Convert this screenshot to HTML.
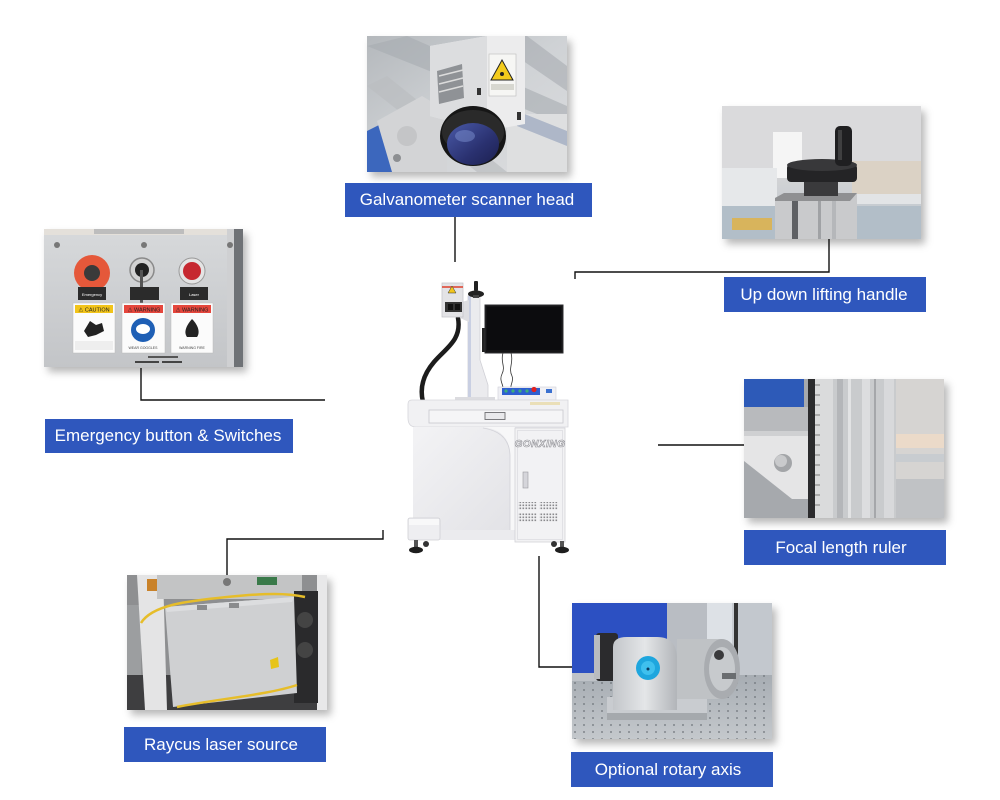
<!DOCTYPE html>
<html><head><meta charset="utf-8"><style>
html,body{margin:0;padding:0;background:#fff;width:1000px;height:800px;overflow:hidden}
svg{display:block}
</style></head><body>
<svg width="1000" height="800" viewBox="0 0 1000 800" xmlns="http://www.w3.org/2000/svg" font-family="'Liberation Sans', sans-serif">
<defs>
<filter id="sh" x="-10%" y="-10%" width="130%" height="135%"><feDropShadow dx="4" dy="5" stdDeviation="4" flood-color="#000" flood-opacity="0.28"/></filter>
<clipPath id="c1"><rect x="0" y="0" width="200" height="136"/></clipPath>
<clipPath id="c2"><rect x="0" y="0" width="199" height="133"/></clipPath>
<clipPath id="c3"><rect x="0" y="0" width="199" height="138"/></clipPath>
<clipPath id="c4"><rect x="0" y="0" width="200" height="139"/></clipPath>
<clipPath id="c5"><rect x="0" y="0" width="200" height="135"/></clipPath>
<clipPath id="c6"><rect x="0" y="0" width="200" height="136"/></clipPath>
<linearGradient id="g1bg" x1="0" y1="0" x2="1" y2="1"><stop offset="0" stop-color="#b4b8bc"/><stop offset="0.5" stop-color="#cfd2d5"/><stop offset="1" stop-color="#dcdddf"/></linearGradient>
<linearGradient id="g2bg" x1="0" y1="0" x2="0" y2="1"><stop offset="0" stop-color="#d9d9db"/><stop offset="0.55" stop-color="#d2d3d5"/><stop offset="1" stop-color="#b9c3cc"/></linearGradient>
<linearGradient id="g3bg" x1="0" y1="0" x2="0" y2="1"><stop offset="0" stop-color="#d7d9db"/><stop offset="1" stop-color="#c3c5c8"/></linearGradient>
<linearGradient id="g4bg" x1="0" y1="0" x2="0" y2="1"><stop offset="0" stop-color="#d6d6d6"/><stop offset="0.45" stop-color="#e8dccf"/><stop offset="0.6" stop-color="#d4d6d8"/><stop offset="1" stop-color="#c2c5c8"/></linearGradient>
<linearGradient id="g6tab" x1="0" y1="0" x2="0" y2="1"><stop offset="0" stop-color="#a7adb3"/><stop offset="1" stop-color="#c4c8cc"/></linearGradient>
<linearGradient id="lens" x1="0" y1="0" x2="1" y2="1"><stop offset="0" stop-color="#4a5aa8"/><stop offset="0.6" stop-color="#2a3170"/><stop offset="1" stop-color="#1c2050"/></linearGradient>
<linearGradient id="silver" x1="0" y1="0" x2="1" y2="0"><stop offset="0" stop-color="#c3c6ca"/><stop offset="0.5" stop-color="#e4e6e8"/><stop offset="1" stop-color="#b2b5b9"/></linearGradient>
<linearGradient id="mcab" x1="0" y1="0" x2="1" y2="1"><stop offset="0" stop-color="#f3f3f5"/><stop offset="1" stop-color="#e2e2e6"/></linearGradient>
<pattern id="vent" width="3" height="3" patternUnits="userSpaceOnUse"><rect width="3" height="3" fill="#f1f1f3"/><rect x="0.5" y="0.5" width="1.6" height="1.6" fill="#8a8a8e"/></pattern>
<pattern id="holes" width="9" height="7" patternUnits="userSpaceOnUse"><circle cx="3" cy="3" r="0.9" fill="#6c7278"/></pattern>
</defs>

<!-- ============ PHOTO 1: Galvanometer ============ -->
<g transform="translate(367,36)">
<rect width="200" height="136" fill="#fff" filter="url(#sh)"/>
<g clip-path="url(#c1)">
<rect width="200" height="136" fill="url(#g1bg)"/>
<polygon points="0,10 40,0 200,70 200,90" fill="#a7abb0" opacity="0.6"/>
<polygon points="0,50 20,40 140,136 110,136" fill="#babdc1" opacity="0.7"/>
<polygon points="120,0 160,0 200,30 200,55" fill="#9fa4a9" opacity="0.5"/>
<rect x="140" y="78" width="60" height="58" fill="#dedfe0"/>
<polygon points="150,75 200,95 200,110 150,90" fill="#7e8fb0" opacity="0.5"/>
<polygon points="0,95 20,85 30,136 0,136" fill="#3c67bd"/>
<polygon points="10,85 55,60 80,75 80,136 25,136" fill="#d3d4d6"/>
<circle cx="40" cy="100" r="10" fill="#c4c5c7"/>
<circle cx="30" cy="122" r="4" fill="#8d8f92"/>
<polygon points="63,10 120,0 158,0 158,88 120,95 63,80" fill="#ececed"/>
<polygon points="63,10 120,0 120,95 63,80" fill="#dcdddf"/>
<polygon points="70,35 95,28 97,62 72,68" fill="#8f9296"/>
<line x1="72" y1="40" x2="96" y2="34" stroke="#dcdcdc" stroke-width="1.5"/>
<line x1="72" y1="48" x2="96" y2="42" stroke="#dcdcdc" stroke-width="1.5"/>
<line x1="72" y1="56" x2="96" y2="50" stroke="#dcdcdc" stroke-width="1.5"/>
<rect x="122" y="18" width="27" height="42" fill="#f6f6f4" stroke="#bbb" stroke-width="0.6"/>
<polygon points="135,24 146,44 124,44" fill="#f3cb1c" stroke="#222" stroke-width="1"/>
<circle cx="135" cy="38" r="2" fill="#222"/>
<rect x="124" y="48" width="23" height="6" fill="#d7d7d0"/>
<rect x="110" y="52" width="4" height="7" fill="#333"/>
<rect x="150" y="76" width="4" height="8" fill="#333"/>
<ellipse cx="106" cy="100" rx="33" ry="30" fill="#161616"/>
<ellipse cx="106" cy="96" rx="31" ry="22" fill="#2a2a2a"/>
<ellipse cx="106" cy="108" rx="26" ry="21" fill="url(#lens)"/>
<ellipse cx="98" cy="100" rx="10" ry="6" fill="#7c8fd0" opacity="0.5"/>
</g></g>

<!-- ============ PHOTO 2: Lifting handle ============ -->
<g transform="translate(722,106)">
<rect width="199" height="133" fill="#fff" filter="url(#sh)"/>
<g clip-path="url(#c2)">
<rect width="199" height="133" fill="url(#g2bg)"/>
<rect x="0" y="0" width="199" height="70" fill="#dadadc"/>
<rect x="51" y="26" width="29" height="46" fill="#f5f5f5"/>
<rect x="130" y="55" width="69" height="35" fill="#dbd2c5"/>
<rect x="0" y="62" width="55" height="45" fill="#e6e8ea"/>
<rect x="0" y="100" width="199" height="33" fill="#b2bec8"/>
<rect x="10" y="112" width="40" height="12" fill="#d8b45c"/>
<rect x="135" y="88" width="64" height="10" fill="#e2e4e6"/>
<polygon points="53,92 62,87 135,87 135,133 53,133" fill="#c9cacc"/>
<polygon points="53,92 62,87 135,87 128,95 53,95" fill="#8f9092"/>
<rect x="70" y="95" width="6" height="38" fill="#5e6064"/>
<rect x="96" y="95" width="3" height="38" fill="#a0a2a5"/>
<rect x="110" y="95" width="4" height="38" fill="#b5b7ba"/>
<rect x="82" y="74" width="34" height="16" fill="#3a3a3c"/>
<rect x="65" y="58" width="70" height="18" rx="4" fill="#242426"/>
<ellipse cx="100" cy="59" rx="35" ry="6" fill="#38383a"/>
<rect x="113" y="20" width="17" height="40" rx="5" fill="#1f1f21"/>
<rect x="116" y="24" width="4" height="30" fill="#555" opacity="0.6"/>
</g></g>

<!-- ============ PHOTO 3: Emergency ============ -->
<g transform="translate(44,229)">
<rect width="199" height="138" fill="#fff" filter="url(#sh)"/>
<g clip-path="url(#c3)">
<rect width="199" height="138" fill="url(#g3bg)"/>
<rect x="0" y="0" width="199" height="6" fill="#e4e0da"/>
<rect x="50" y="0" width="90" height="5" fill="#bdbdbd"/>
<rect x="190" y="0" width="9" height="138" fill="#6f7276"/>
<rect x="183" y="0" width="7" height="138" fill="#cfd0d2"/>
<circle cx="13" cy="16" r="3" fill="#777"/>
<circle cx="100" cy="16" r="3" fill="#777"/>
<circle cx="186" cy="16" r="3" fill="#777"/>
<circle cx="48" cy="44" r="18" fill="#e5583a"/>
<circle cx="48" cy="44" r="8" fill="#3a3a3a"/>
<circle cx="98" cy="41" r="12" fill="#d2d2d2" stroke="#8a8a8a" stroke-width="1.5"/>
<circle cx="98" cy="41" r="7" fill="#222"/>
<rect x="96" y="41" width="3" height="38" fill="#555"/>
<circle cx="148" cy="42" r="13" fill="#e4e4e4" stroke="#999" stroke-width="1"/>
<circle cx="148" cy="42" r="9" fill="#c62830"/>
<rect x="34" y="58" width="28" height="13" fill="#2b2b2b"/>
<rect x="86" y="58" width="29" height="13" fill="#2b2b2b"/>
<rect x="136" y="58" width="28" height="13" fill="#2b2b2b"/>
<text x="48" y="67" font-size="4" fill="#fff" text-anchor="middle">Emergency</text>
<text x="150" y="67" font-size="4" fill="#fff" text-anchor="middle">Laser</text>
<rect x="29" y="74" width="42" height="50" fill="#fbfbfb" stroke="#bbb" stroke-width="0.5"/>
<rect x="31" y="76" width="38" height="8" fill="#f2c419"/>
<text x="50" y="82.5" font-size="5.5" fill="#222" text-anchor="middle">⚠ CAUTION</text>
<path d="M40,102 l6,-10 l6,4 l6,-2 l2,8 l-8,4 l-8,2 z" fill="#222"/>
<rect x="31" y="112" width="38" height="9" fill="#eee"/>
<rect x="78" y="74" width="43" height="50" fill="#fbfbfb" stroke="#bbb" stroke-width="0.5"/>
<rect x="80" y="76" width="39" height="8" fill="#e5463c"/>
<text x="100" y="82.5" font-size="5.5" fill="#222" text-anchor="middle">⚠ WARNING</text>
<circle cx="99" cy="101" r="12" fill="#1e5fb5"/>
<ellipse cx="99" cy="100" rx="7" ry="5" fill="#fff"/>
<text x="99" y="120" font-size="3.5" fill="#444" text-anchor="middle">WEAR GOGGLES</text>
<rect x="127" y="74" width="42" height="50" fill="#fbfbfb" stroke="#bbb" stroke-width="0.5"/>
<rect x="129" y="76" width="38" height="8" fill="#e5463c"/>
<text x="148" y="82.5" font-size="5.5" fill="#222" text-anchor="middle">⚠ WARNING</text>
<path d="M148,90 C141,98 140,104 143,108 L153,108 C156,104 155,97 148,90 Z" fill="#222"/>
<text x="148" y="120" font-size="3.5" fill="#444" text-anchor="middle">WARNING FIRE</text>
<rect x="91" y="132" width="24" height="2" fill="#444"/>
<rect x="118" y="132" width="20" height="2" fill="#444"/>
<rect x="104" y="127" width="30" height="2" fill="#555"/>
</g></g>

<!-- ============ PHOTO 4: Focal ruler ============ -->
<g transform="translate(744,379)">
<rect width="200" height="139" fill="#fff" filter="url(#sh)"/>
<g clip-path="url(#c4)">
<rect width="200" height="139" fill="url(#g4bg)"/>
<rect x="0" y="0" width="64" height="139" fill="#a6a9ad"/>
<rect x="0" y="0" width="60" height="28" fill="#2d5ab8"/>
<rect x="0" y="28" width="64" height="25" fill="#b8babd"/>
<rect x="0" y="52" width="64" height="5" fill="#cfd0d2"/>
<polygon points="0,57 64,57 64,120 48,120 0,82" fill="#e5e5e6"/>
<circle cx="39" cy="84" r="9" fill="#a3a5a8"/>
<circle cx="37" cy="82" r="6" fill="#c9cacc"/>
<rect x="64" y="0" width="7" height="139" fill="#2b2b2d"/>
<rect x="71" y="0" width="18" height="139" fill="#dadbdc"/>
<g stroke="#666" stroke-width="0.8">
<line x1="71" y1="6" x2="76" y2="6"/><line x1="71" y1="16" x2="76" y2="16"/><line x1="71" y1="26" x2="76" y2="26"/><line x1="71" y1="36" x2="76" y2="36"/><line x1="71" y1="46" x2="76" y2="46"/><line x1="71" y1="56" x2="76" y2="56"/><line x1="71" y1="66" x2="76" y2="66"/><line x1="71" y1="76" x2="76" y2="76"/><line x1="71" y1="86" x2="76" y2="86"/><line x1="71" y1="96" x2="76" y2="96"/><line x1="71" y1="106" x2="76" y2="106"/><line x1="71" y1="116" x2="76" y2="116"/><line x1="71" y1="126" x2="76" y2="126"/>
</g>
<rect x="89" y="0" width="63" height="139" fill="#c9cbcd"/>
<rect x="93" y="0" width="6" height="139" fill="#b4b6b9"/>
<rect x="104" y="0" width="3" height="139" fill="#e2e3e4"/>
<rect x="118" y="0" width="8" height="139" fill="#dcdddf"/>
<rect x="130" y="0" width="2" height="139" fill="#a5a7aa"/>
<rect x="140" y="0" width="10" height="139" fill="#d8d9db"/>
<rect x="152" y="0" width="48" height="139" fill="#d6d4d2"/>
<rect x="152" y="55" width="48" height="14" fill="#ebdac9"/>
<rect x="152" y="75" width="48" height="8" fill="#c8ccd0"/>
<rect x="152" y="100" width="48" height="39" fill="#c0c2c5"/>
</g></g>

<!-- ============ PHOTO 5: Raycus ============ -->
<g transform="translate(127,575)">
<rect width="200" height="135" fill="#fff" filter="url(#sh)"/>
<g clip-path="url(#c5)">
<rect width="200" height="135" fill="#8e8f91"/>
<rect x="0" y="100" width="200" height="35" fill="#3e3e40"/>
<rect x="0" y="30" width="14" height="70" fill="#9c9ea0"/>
<polygon points="10,0 36,0 40,135 18,135" fill="#e4e4e5"/>
<rect x="30" y="0" width="145" height="24" fill="#c3c4c5"/>
<rect x="190" y="0" width="10" height="135" fill="#e8e8e9"/>
<rect x="167" y="16" width="24" height="112" fill="#2a2a2c"/>
<circle cx="178" cy="45" r="8" fill="#444"/>
<circle cx="178" cy="75" r="8" fill="#444"/>
<polygon points="38,32 167,22 170,118 46,132" fill="#cfd0d2"/>
<polygon points="38,32 167,22 165,27 40,37" fill="#dcdddf"/>
<rect x="70" y="30" width="10" height="5" fill="#8a8b8d"/>
<rect x="102" y="28" width="10" height="5" fill="#8a8b8d"/>
<polygon points="143,85 151,82 152,92 144,94" fill="#e7c418"/>
<path d="M14,48 C25,30 60,26 100,22 C140,18 160,18 178,22" stroke="#e6bd2a" stroke-width="2.5" fill="none"/>
<path d="M50,132 C90,124 140,120 170,110" stroke="#e6bd2a" stroke-width="2.5" fill="none"/>
<rect x="20" y="4" width="10" height="12" fill="#c9822a"/>
<circle cx="100" cy="7" r="4" fill="#777"/>
<rect x="130" y="2" width="20" height="8" fill="#3a7a4a"/>
</g></g>

<!-- ============ PHOTO 6: Rotary ============ -->
<g transform="translate(572,603)">
<rect width="200" height="136" fill="#fff" filter="url(#sh)"/>
<g clip-path="url(#c6)">
<rect width="200" height="136" fill="#c8ccd1"/>
<rect x="0" y="0" width="95" height="80" fill="#2c50c2"/>
<rect x="95" y="0" width="40" height="80" fill="#b9bdc3"/>
<rect x="135" y="0" width="25" height="82" fill="#dde1e6"/>
<rect x="162" y="0" width="4" height="82" fill="#333"/>
<rect x="166" y="0" width="34" height="82" fill="#c3c8ce"/>
<rect x="0" y="72" width="200" height="64" fill="url(#g6tab)"/>
<rect x="0" y="72" width="200" height="64" fill="url(#holes)"/>
<rect x="0" y="70" width="40" height="8" fill="#bfc3c8"/>
<rect x="24" y="30" width="22" height="48" rx="3" fill="#2b2b2d"/>
<rect x="22" y="32" width="6" height="44" fill="#b9bcbf"/>
<rect x="35" y="94" width="100" height="23" fill="#c9ccd0"/>
<rect x="35" y="110" width="100" height="7" fill="#a5a9ad"/>
<path d="M41,107 L41,44 Q41,34 55,34 L85,34 Q105,34 105,56 L105,107 Z" fill="url(#silver)"/>
<circle cx="76" cy="65" r="12" fill="#1ea6de"/>
<circle cx="76" cy="65" r="7" fill="#3fc0ee"/>
<circle cx="76" cy="66" r="1.5" fill="#0a3a60"/>
<rect x="105" y="36" width="45" height="60" fill="#bfc2c5"/>
<ellipse cx="150" cy="66" rx="18" ry="30" fill="#a9acb0"/>
<ellipse cx="150" cy="66" rx="13" ry="22" fill="#c7cacd"/>
<circle cx="147" cy="52" r="5" fill="#3a3a3c"/>
<rect x="150" y="70" width="14" height="6" fill="#6a6d70"/>
</g></g>

<!-- ============ CENTER MACHINE ============ -->
<g>
<!-- fiber cable -->
<path d="M458,318 C462,340 446,348 434,362 C422,376 420,390 423,402" stroke="#1c1c1c" stroke-width="4.5" fill="none" stroke-linecap="round"/>
<!-- column -->
<polygon points="468,296 480,296 480,360 488,385 488,403 468,403" fill="#ebebee" stroke="#d0d0d6" stroke-width="0.8"/>
<rect x="468" y="296" width="3" height="107" fill="#c9cfe2"/>
<!-- arm -->
<polygon points="458,303 469,300 469,322 460,318" fill="#dedee2"/>
<!-- handle -->
<rect x="474" y="281" width="4" height="10" rx="1" fill="#222"/>
<ellipse cx="476" cy="294" rx="8" ry="3.5" fill="#222"/>
<rect x="473" y="295" width="6" height="3" fill="#444"/>
<!-- galvo head -->
<rect x="442" y="283" width="21" height="34" fill="#e3e3e6" stroke="#c6c6cc" stroke-width="0.8"/>
<line x1="442" y1="287" x2="463" y2="287" stroke="#e0402c" stroke-width="1.6"/>
<polygon points="452,286 456,293 448,293" fill="#f2c51c" stroke="#333" stroke-width="0.5"/>
<rect x="445" y="302" width="17" height="10" fill="#333"/>
<rect x="448" y="304" width="5" height="6" fill="#111"/>
<rect x="455" y="304" width="5" height="6" fill="#111"/>
<!-- monitor -->
<rect x="482" y="328" width="4" height="24" fill="#222"/>
<rect x="485" y="305" width="78" height="48" fill="#141416" stroke="#2e2e30" stroke-width="1"/>
<rect x="487" y="307" width="74" height="43" fill="#0c0c0e"/>
<!-- cables -->
<path d="M503,353 C500,362 506,366 502,374 C499,380 503,384 503,388" stroke="#333" stroke-width="0.8" fill="none"/>
<path d="M511,353 C514,362 508,368 512,376 C514,381 510,385 511,388" stroke="#333" stroke-width="0.8" fill="none"/>
<!-- control panel -->
<rect x="498" y="387" width="58" height="13" fill="#f0f0f4" stroke="#d0d0d8" stroke-width="0.6"/>
<rect x="502" y="388" width="38" height="7" fill="#2f5fd0"/>
<circle cx="506" cy="391" r="1.6" fill="#3db07a"/>
<circle cx="513" cy="391" r="1.6" fill="#3db07a"/>
<circle cx="520" cy="391" r="1.6" fill="#3db07a"/>
<circle cx="527" cy="391" r="1.6" fill="#3db07a"/>
<circle cx="534" cy="389.5" r="2.6" fill="#e02020"/>
<rect x="546" y="389" width="6" height="4" fill="#3a70d0"/>
<!-- tabletop -->
<rect x="455" y="397" width="40" height="4" fill="#dcdce0"/>
<path d="M412,400 L568,400 L568,427 L416,427 Q408,427 408,418 L408,404 Q408,400 412,400 Z" fill="#f1f1f3" stroke="#d6d6db" stroke-width="0.8"/>
<rect x="530" y="402" width="30" height="3" fill="#eadfb8"/>
<rect x="429" y="410" width="134" height="13" fill="#f5f5f7" stroke="#c8c8ce" stroke-width="0.8"/>
<rect x="485" y="412.5" width="20" height="7" fill="#e9e9ec" stroke="#6e6e72" stroke-width="0.9"/>
<!-- left section -->
<rect x="413" y="427" width="102" height="106" fill="url(#mcab)"/>
<path d="M483,427 Q510,430 510,455 L510,533 L515,533 L515,427 Z" fill="#f7f7f8"/>
<path d="M483,428 Q509,432 510,455 L510,533" stroke="#d2d2d8" stroke-width="0.8" fill="none"/>
<rect x="440" y="530" width="75" height="10" fill="#ebebee"/>
<!-- foot pedal -->
<rect x="408" y="518" width="32" height="22" rx="2" fill="#eeeef1" stroke="#cfcfd4" stroke-width="0.8"/>
<rect x="409" y="519" width="30" height="6" fill="#f8f8f9"/>
<!-- right cabinet -->
<rect x="515" y="428" width="50" height="114" fill="#f2f2f4" stroke="#d2d2d7" stroke-width="0.8"/>
<rect x="517.5" y="430.5" width="45" height="109" fill="none" stroke="#dadadf" stroke-width="0.7"/>
<text x="540" y="447" font-size="10" font-style="italic" font-weight="bold" fill="#fbfbfb" stroke="#8c8c92" stroke-width="0.6" text-anchor="middle" letter-spacing="0.5">GONXING</text>
<rect x="523" y="472" width="5" height="16" fill="#d5d5da" stroke="#9a9aa0" stroke-width="0.6"/>
<rect x="518" y="502" width="19" height="8" fill="url(#vent)"/>
<rect x="539" y="502" width="19" height="8" fill="url(#vent)"/>
<rect x="518" y="513" width="19" height="9" fill="url(#vent)"/>
<rect x="539" y="513" width="19" height="9" fill="url(#vent)"/>
<!-- feet -->
<rect x="414" y="540" width="4" height="8" fill="#555"/>
<ellipse cx="416" cy="550" rx="7" ry="3.2" fill="#1e1e1e"/>
<circle cx="426" cy="544" r="3" fill="#333"/>
<rect x="560" y="541" width="4" height="7" fill="#555"/>
<ellipse cx="562" cy="550" rx="7" ry="3.2" fill="#1e1e1e"/>
<circle cx="554" cy="544" r="3" fill="#333"/>
</g>

<!-- ============ CONNECTORS ============ -->
<g stroke="#111" stroke-width="1.4" fill="none">
<polyline points="455,217 455,262"/>
<polyline points="829,239 829,272 575,272 575,279"/>
<polyline points="141,368 141,400 325,400"/>
<polyline points="658,445 744,445"/>
<polyline points="227,575 227,539 383,539 383,530"/>
<polyline points="539,556 539,667 572,667"/>
</g>

<!-- ============ LABELS ============ -->
<g fill="#2f57bd">
<rect x="345" y="183" width="247" height="34"/>
<rect x="724" y="277" width="202" height="35"/>
<rect x="45" y="419" width="248" height="34"/>
<rect x="744" y="530" width="202" height="35"/>
<rect x="124" y="727" width="202" height="35"/>
<rect x="571" y="752" width="202" height="35"/>
</g>
<g fill="#fff" font-size="17" text-anchor="middle">
<text x="467" y="205">Galvanometer scanner head</text>
<text x="824" y="300">Up down lifting handle</text>
<text x="168" y="441">Emergency button &amp; Switches</text>
<text x="841" y="553">Focal length ruler</text>
<text x="221" y="750">Raycus laser source</text>
<text x="668" y="775">Optional rotary axis</text>
</g>
</svg>
</body></html>
